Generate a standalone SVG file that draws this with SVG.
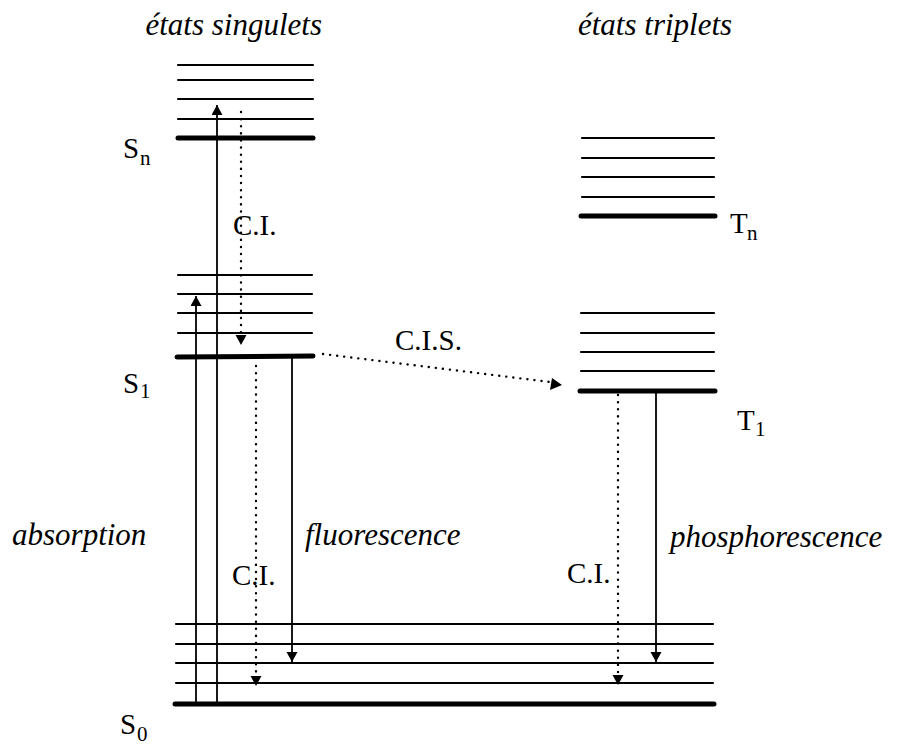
<svg xmlns="http://www.w3.org/2000/svg" width="898" height="746" viewBox="0 0 898 746">
<style>
.lv{stroke:#000;stroke-width:2.2;stroke-linecap:round;fill:none}
.lvt{stroke:#000;stroke-width:5;stroke-linecap:round;fill:none}
.ar{stroke:#000;stroke-width:1.8;fill:none}
.dt{stroke:#000;stroke-width:2.4;stroke-linecap:round;stroke-dasharray:0.1 7;fill:none}
.it{font-family:"Liberation Serif","Times New Roman",serif;font-style:italic;font-size:31px;fill:#000}
.rm{font-family:"Liberation Serif","Times New Roman",serif;font-size:29px;fill:#000}
.sb{font-family:"Liberation Serif","Times New Roman",serif;font-size:21px;fill:#000}
</style>
<defs>
<marker id="ah" markerUnits="userSpaceOnUse" markerWidth="12" markerHeight="12" refX="10" refY="5.5" orient="auto">
<path d="M0,0 L10,5.5 L0,11 z" fill="#000"/>
</marker>
</defs>
<rect width="898" height="746" fill="#fff"/>
<g id="titles">
<text class="it" x="322" y="35" text-anchor="end">états singulets</text>
<text class="it" x="578" y="35">états triplets</text>
</g>
<g id="Sn">
<line class="lv" x1="178" y1="65" x2="313" y2="65"/>
<line class="lv" x1="178" y1="80" x2="313" y2="80"/>
<line class="lv" x1="178" y1="99" x2="313" y2="99"/>
<line class="lv" x1="178" y1="119" x2="313" y2="119"/>
<line class="lvt" x1="178" y1="138" x2="313" y2="138"/>
<text class="rm" x="123" y="158">S</text><text class="sb" x="140" y="165">n</text>
</g>
<g id="S1">
<line class="lv" x1="178" y1="275" x2="312" y2="275"/>
<line class="lv" x1="178" y1="294" x2="312" y2="294"/>
<line class="lv" x1="178" y1="313" x2="312" y2="313"/>
<line class="lv" x1="178" y1="333" x2="312" y2="333"/>
<line class="lvt" x1="177" y1="357" x2="313" y2="356"/>
<text class="rm" x="123" y="393">S</text><text class="sb" x="140" y="398">1</text>
</g>
<g id="S0">
<line class="lv" x1="176" y1="624" x2="713" y2="624"/>
<line class="lv" x1="176" y1="644" x2="713" y2="644"/>
<line class="lv" x1="176" y1="663" x2="713" y2="663"/>
<line class="lv" x1="176" y1="683" x2="713" y2="683"/>
<line class="lvt" x1="175" y1="704" x2="714" y2="704"/>
<text class="rm" x="120" y="734">S</text><text class="sb" x="137" y="741">0</text>
</g>
<g id="Tn">
<line class="lv" x1="582" y1="138" x2="714" y2="138"/>
<line class="lv" x1="582" y1="158" x2="714" y2="158"/>
<line class="lv" x1="582" y1="177" x2="714" y2="177"/>
<line class="lv" x1="582" y1="197" x2="714" y2="197"/>
<line class="lvt" x1="581" y1="216" x2="715" y2="216"/>
<text class="rm" x="730" y="233">T</text><text class="sb" x="747" y="240">n</text>
</g>
<g id="T1">
<line class="lv" x1="581" y1="313" x2="714" y2="313"/>
<line class="lv" x1="581" y1="333" x2="714" y2="333"/>
<line class="lv" x1="581" y1="352" x2="714" y2="352"/>
<line class="lv" x1="581" y1="371" x2="714" y2="371"/>
<line class="lvt" x1="580" y1="391" x2="715" y2="391"/>
<text class="rm" x="737" y="430">T</text><text class="sb" x="755" y="436">1</text>
</g>
<g id="connectors">
<line class="ar" x1="217" y1="704" x2="217" y2="105" marker-end="url(#ah)"/>
<line class="ar" x1="196" y1="704" x2="196" y2="296" marker-end="url(#ah)"/>
<line class="dt" x1="241" y1="112" x2="241" y2="335"/>
<path d="M235.5,335 L246.5,335 L241,345 z" fill="#000"/>
<line class="dt" x1="256" y1="366" x2="256" y2="676"/>
<path d="M250.5,676 L261.5,676 L256,686 z" fill="#000"/>
<line class="ar" x1="292" y1="357" x2="292" y2="662" marker-end="url(#ah)"/>
<line class="dt" x1="323" y1="354" x2="550" y2="382"/>
<path d="M552,378 L562,385 L550,390 z" fill="#000"/>
<line class="dt" x1="618" y1="395" x2="618" y2="675"/>
<path d="M612.5,675 L623.5,675 L618,685 z" fill="#000"/>
<line class="ar" x1="656" y1="391" x2="656" y2="662" marker-end="url(#ah)"/>
</g>
<g id="labels">
<text class="rm" x="233" y="235">C.I.</text>
<text class="rm" x="395" y="350">C.I.S.</text>
<text class="it" x="12" y="545">absorption</text>
<text class="it" x="305" y="545">fluorescence</text>
<text class="it" x="670" y="547">phosphorescence</text>
<text class="rm" x="232" y="585">C.I.</text>
<text class="rm" x="567" y="583">C.I.</text>
</g>
</svg>
